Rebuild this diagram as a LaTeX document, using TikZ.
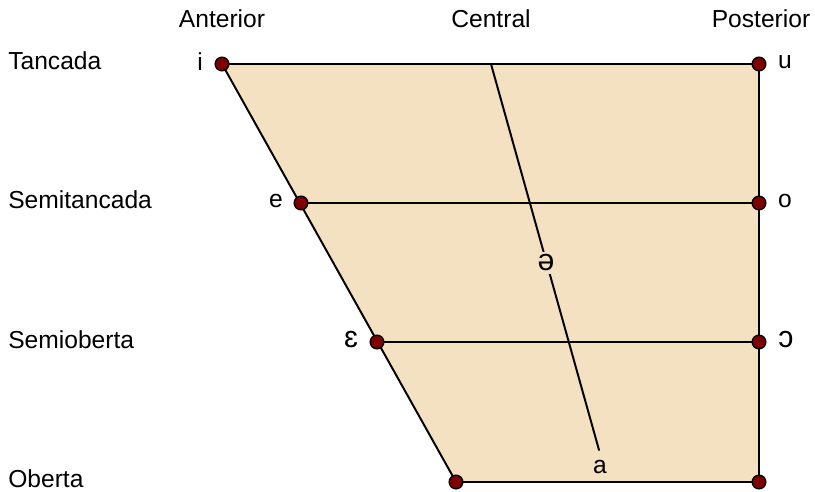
\documentclass[tikz,border=0pt]{standalone}
\usepackage{fontspec}
\setmainfont{Liberation Sans}
\definecolor{trapfill}{HTML}{F4E1C2}
\definecolor{dotred}{HTML}{7F0000}
\tikzset{
  trap/.style={fill=trapfill, draw=none},
  edge/.style={line width=1.4pt, draw=black, line cap=round},
  vdot/.style={circle, fill=dotred, draw=black, line width=1pt, inner sep=0pt, minimum size=0.34cm},
  vowel/.style={font=\fontsize{17.5}{20}\selectfont, inner sep=1pt},
  bigvowel/.style={font=\fontsize{21.5}{24}\selectfont, inner sep=1pt},
  rowlabel/.style={font=\fontsize{17.5}{20}\selectfont, anchor=west, inner sep=0pt},
  collabel/.style={font=\fontsize{17.5}{20}\selectfont, inner sep=0pt},
}

\begin{document}
\begin{tikzpicture}[x=0.025cm, y=-0.025cm]
\useasboundingbox (0,0) rectangle (815,492);
% corners of the trapezoid
\coordinate (i) at (222,64);
\coordinate (u) at (759,64);
\coordinate (e) at (301,203);
\coordinate (o) at (759,203);
\coordinate (eh) at (377,342);
\coordinate (oh) at (759,342);
\coordinate (bl) at (456,482);
\coordinate (br) at (759,482);
\coordinate (ctop) at (491,64);
\coordinate (cbot) at (599,450);
\fill[trap] (i) -- (u) -- (br) -- (bl) -- cycle;
\draw[edge] (i) -- (u);
\draw[edge] (e) -- (o);
\draw[edge] (eh) -- (oh);
\draw[edge] (bl) -- (br);
\draw[edge] (i) -- (bl);
\draw[edge] (u) -- (br);
\draw[edge] (ctop) -- (cbot);
\node[bigvowel, fill=trapfill, inner sep=2pt] (schwa) at (546,263) {ə};
\node[vowel] (la) at (600,467) {a};
% dots
\node[vdot] (di) at (i) {};
\node[vdot] (du) at (u) {};
\node[vdot] (de) at (e) {};
\node[vdot] (do) at (o) {};
\node[vdot] (deh) at (eh) {};
\node[vdot] (doh) at (oh) {};
\node[vdot] (dbl) at (bl) {};
\node[vdot] (dbr) at (br) {};
% vowel letters
\node[vowel] (li) at (200,62) {i};
\node[vowel] (lu) at (785,62) {u};
\node[vowel] (le) at (276,201) {e};
\node[vowel] (lo) at (785,201) {o};
\node[bigvowel] (leh) at (351,340) {ɛ};
\node[bigvowel] (loh) at (786,340) {ɔ};
% column and row labels
\node[collabel] (ant) at (222,19) {Anterior};
\node[collabel] (cen) at (491,19) {Central};
\node[collabel] (pos) at (761,19) {Posterior};
\node[rowlabel] (tan) at (8,61) {Tancada};
\node[rowlabel] (stan) at (8,200) {Semitancada};
\node[rowlabel] (sob) at (8,340) {Semioberta};
\node[rowlabel] (obe) at (8,479) {Oberta};
\end{tikzpicture}
\end{document}
